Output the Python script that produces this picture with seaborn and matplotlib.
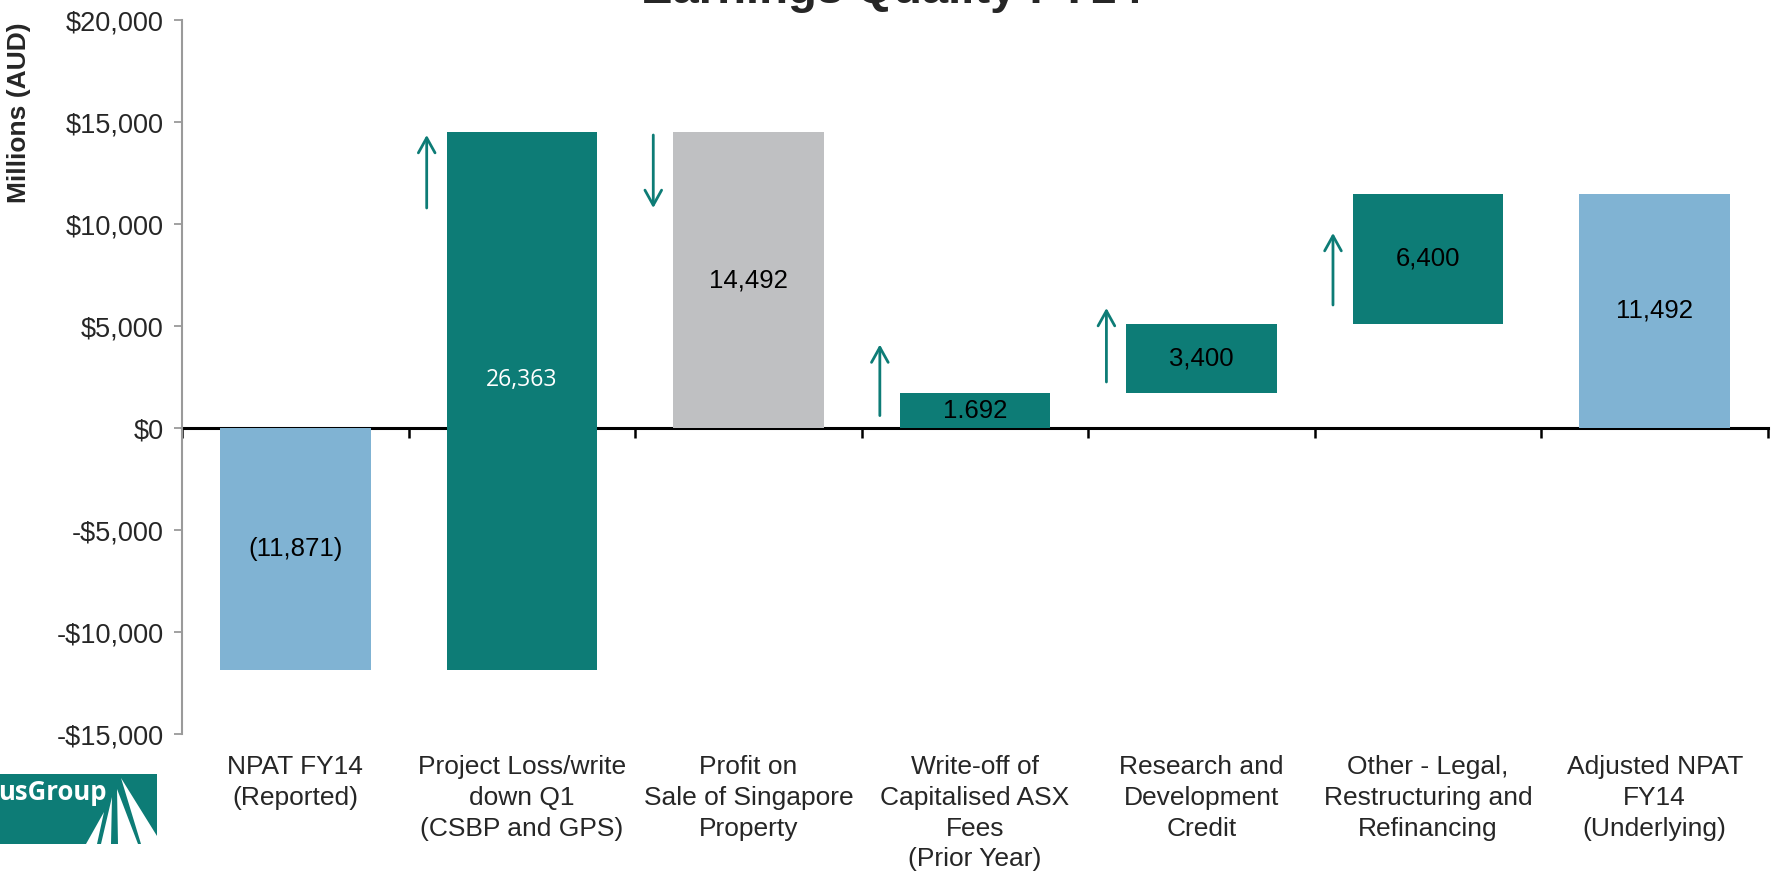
import numpy as np
import pandas as pd
import matplotlib
matplotlib.use("Agg")
import matplotlib.pyplot as plt
from matplotlib.patches import Polygon, Rectangle
from matplotlib.ticker import FuncFormatter
import seaborn as sns

# ---- data ----
categories = [
    "NPAT FY14\n(Reported)",
    "Project Loss/write\ndown Q1\n(CSBP and GPS)",
    "Profit on\nSale of Singapore\nProperty",
    "Write-off of\nCapitalised ASX\nFees\n(Prior Year)",
    "Research and\nDevelopment\nCredit",
    "Other - Legal,\nRestructuring and\nRefinancing",
    "Adjusted NPAT\nFY14\n(Underlying)",
]
bar_bottoms = [0, -11871, 0, 0, 1692, 5092, 0]
bar_heights = [-11871, 26363, 14492, 1692, 3400, 6400, 11492]
value_labels = ["(11,871)", "26,363", "14,492", "1.692", "3,400", "6,400", "11,492"]
bar_kind = ["total", "up", "down", "up", "up", "up", "total"]
# arrows (category index, tail value, head value)
arrow_cat = [1, 2, 3, 4, 5]
arrow_tail = [10784, 14363, 608, 2255, 6029]
arrow_head = [14363, 10784, 4093, 5882, 9559]

# ---- style ----
TEAL = "#0D7C76"
BLUE = "#80B3D3"
GRAY = "#BFC0C2"
kind_color = {"total": BLUE, "up": TEAL, "down": GRAY}
label_frac = [0.5, 0.54, 0.5, 0.5, 0.5, 0.5, 0.5]
label_color = ["black", "white", "black", "black", "black", "black", "black"]
label_family = ["Liberation Sans", "Open Sans", "Liberation Sans", "Liberation Sans",
                "Liberation Sans", "Liberation Sans", "Liberation Sans"]
label_size = [18.5, 16.5, 18.5, 18.5, 18.5, 18.5, 18.5]

sns.set_theme(style="white")
plt.rcParams["font.family"] = ["Liberation Sans", "DejaVu Sans"]

W, H = 1771, 872
fig = plt.figure(figsize=(W / 100, H / 100), dpi=100)
ax = fig.add_axes([182 / W, 1 - 734 / H, (1768 - 182) / W, (734 - 20) / H])

df = pd.DataFrame({"cat": categories, "height": bar_heights})
sns.barplot(data=df, x="cat", y="height", bottom=bar_bottoms, color=TEAL,
            width=0.665, ax=ax, linewidth=0, saturation=1, order=categories)
for patch, kind in zip(ax.patches, bar_kind):
    patch.set_facecolor(kind_color[kind])
    patch.set_edgecolor("none")
    patch.set_zorder(2)

ymin, ymax = -15000, 20000
ax.set_ylim(ymin, ymax)
ax.set_xlim(-0.5, len(categories) - 0.5)
ax.set_yticks(np.arange(-15000, 20001, 5000))
ax.yaxis.set_major_formatter(FuncFormatter(
    lambda v, p: ("-$" if v < 0 else "$") + f"{abs(int(v)):,}"))
ax.tick_params(axis="y", direction="out", length=6, width=1.3, color="#9A9A9A",
               labelsize=19.5, pad=7, left=True)
ax.tick_params(axis="x", length=0, pad=15, labelsize=19)
ax.set_xlabel("")
ax.set_ylabel("")
for s in ["top", "right", "bottom"]:
    ax.spines[s].set_visible(False)
ax.spines["left"].set_color("#9A9A9A")
ax.spines["left"].set_linewidth(1.5)
for t in ax.get_xticklabels():
    t.set_linespacing(1.36)

# zero line with boundary ticks
zero_loc = (0 - ymin) / (ymax - ymin)
sec = ax.secondary_xaxis(zero_loc)
sec.set_xticks(np.arange(-0.5, len(categories), 1.0))
sec.tick_params(direction="out", length=7, width=1.8, color="black", labelbottom=False)
sec.spines["bottom"].set_color("black")
sec.spines["bottom"].set_linewidth(2.2)
sec.set_zorder(0.5)

# value labels
for i, (b, h) in enumerate(zip(bar_bottoms, bar_heights)):
    ax.text(i, b + h * label_frac[i], value_labels[i], ha="center", va="center",
            fontsize=label_size[i], color=label_color[i],
            family=[label_family[i], "DejaVu Sans"], zorder=3)

# arrows
for c, t0, t1 in zip(arrow_cat, arrow_tail, arrow_head):
    ax.annotate("", xy=(c - 0.42, t1), xytext=(c - 0.42, t0),
                arrowprops=dict(arrowstyle="->,head_length=0.9,head_width=0.5",
                                color=TEAL, lw=2, shrinkA=0, shrinkB=0), zorder=3)

# titles
fig.text(19 / W, 1 - 113 / H, "Millions (AUD)", rotation=90, ha="center", va="center",
         fontsize=19, fontweight="bold")
fig.text(892 / W, 1 - 3 / H, "Earnings Quality FY14", ha="center", va="baseline",
         fontsize=34, fontweight="bold")

# logo
fig.patches.append(Rectangle((0, 1 - 844 / H), 157 / W, 70 / H, transform=fig.transFigure,
                             facecolor=TEAL, edgecolor="none"))
for pts in [[(86, 844), (97, 844), (104, 812)],
            [(101, 844), (111, 844), (112, 797)],
            [(118, 844), (138, 844), (117, 789)],
            [(141, 844), (157, 844), (157, 836), (121, 778)]]:
    fig.patches.append(Polygon([(x / W, 1 - y / H) for x, y in pts], closed=True,
                               transform=fig.transFigure, facecolor="white", edgecolor="none"))
fig.text(-2 / W, 1 - 792 / H, "usGroup", ha="left", va="center", color="white",
         fontsize=18.5, fontweight="bold", family=["Open Sans", "DejaVu Sans"])

fig.savefig("out.png", dpi=100)
